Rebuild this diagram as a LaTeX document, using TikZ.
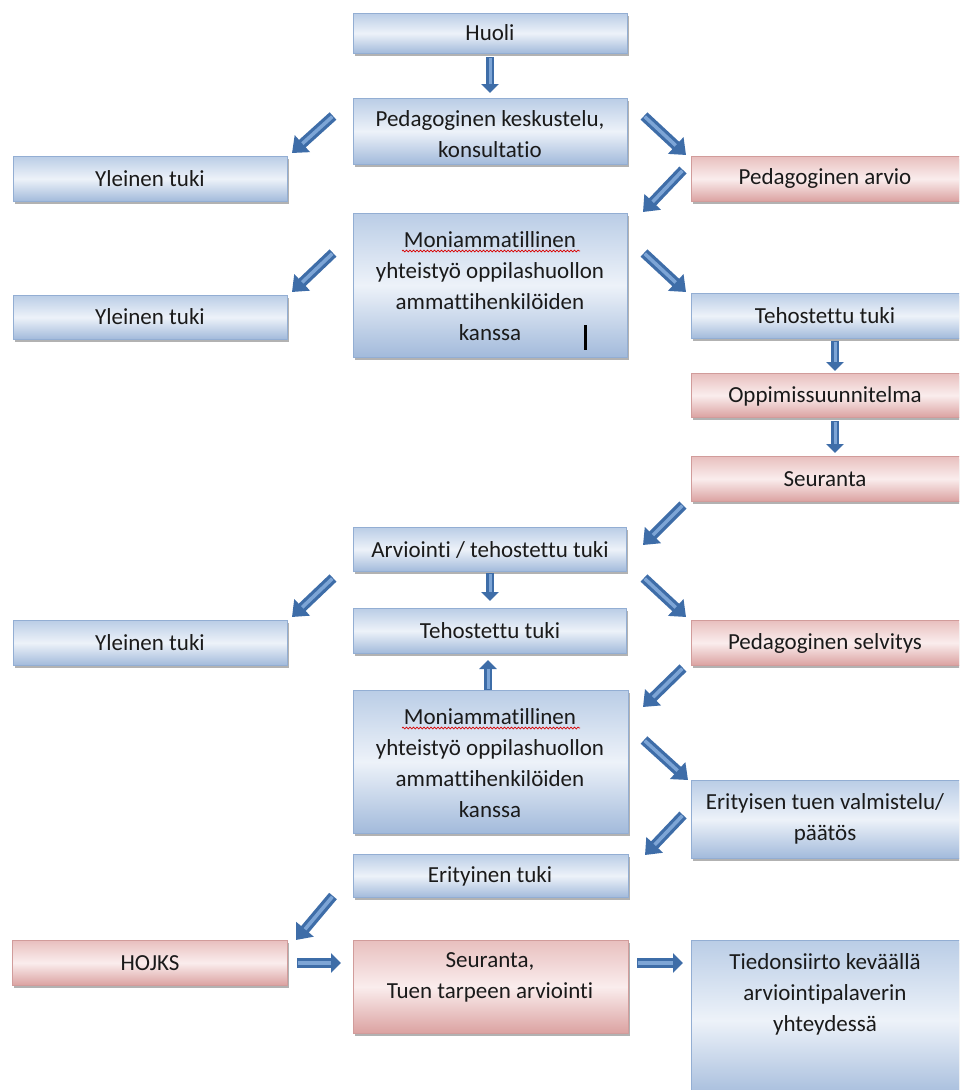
\documentclass[tikz,border=0pt]{standalone}
\usepackage{fontspec}
\setmainfont{Carlito}[Ligatures=NoCommon]
\usetikzlibrary{arrows.meta,shadows,decorations.pathmorphing}
\definecolor{bluetop}{HTML}{BACDE6}
\definecolor{bluemid}{HTML}{EDF2F9}
\definecolor{bluebot}{HTML}{A2BADB}
\definecolor{blueedge}{HTML}{93AED3}
\definecolor{redtop}{HTML}{E8BFBE}
\definecolor{redmid}{HTML}{FAEDED}
\definecolor{redbot}{HTML}{DBA2A1}
\definecolor{rededge}{HTML}{D19C9B}
\definecolor{txt}{HTML}{1A1A1A}
\definecolor{arrowdark}{HTML}{3E6DA8}
\definecolor{arrowlight}{HTML}{7DA5D6}
\tikzset{
  x=1pt, y=-1pt,
  basebox/.style={rectangle, anchor=north west, inner sep=0pt, line width=0.6pt,
    drop shadow={shadow xshift=2pt, shadow yshift=-2.5pt, opacity=0.3, fill=black}},
  bluebox/.style={basebox, draw=blueedge, top color=bluetop, bottom color=bluebot, middle color=bluemid},
  redbox/.style={basebox, draw=rededge, top color=redtop, bottom color=redbot, middle color=redmid},
  lbl/.style={font=\fontsize{23}{31}\selectfont, text=txt, align=center, inner sep=0pt},
  barrow/.style={line width=10pt, draw=arrowdark, -{Triangle[width=22pt,length=14pt]}},
  sarrow/.style={line width=8pt, draw=arrowdark, -{Triangle[width=17pt,length=9pt]}},
  hlbig/.style={line width=3.5pt, draw=arrowlight, shorten >=14pt, shorten <=1pt},
  hlsmall/.style={line width=3pt, draw=arrowlight, shorten >=9pt, shorten <=1pt},
  squig/.style={draw=red!85!black, line width=0.7pt, decorate, decoration={snake, amplitude=0.9pt, segment length=3.5pt}}
}
\begin{document}
\begin{tikzpicture}
\useasboundingbox (0,0) rectangle (959,1090);
\fill[white] (0,0) rectangle (959,1090);
\clip (0,0) rectangle (959,1090);

% ---------- boxes ----------
\node[bluebox, minimum width=274pt, minimum height=40pt] (huoli) at (353,13) {};
\node[bluebox, minimum width=274pt, minimum height=66pt] (pedkesk) at (353,98) {};
\node[bluebox, minimum width=274pt, minimum height=45pt] (yl1) at (13,156) {};
\node[redbox, minimum width=275pt, minimum height=45pt] (pedarv) at (691,156) {};
\node[bluebox, minimum width=274pt, minimum height=144pt] (moni1) at (353,213) {};
\node[bluebox, minimum width=274pt, minimum height=44pt] (yl2) at (13,295) {};
\node[bluebox, minimum width=275pt, minimum height=45pt] (teho1) at (691,293) {};
\node[redbox, minimum width=275pt, minimum height=44pt] (oppi) at (691,373) {};
\node[redbox, minimum width=275pt, minimum height=45pt] (seur1) at (691,456) {};
\node[bluebox, minimum width=273pt, minimum height=44pt] (arvi) at (353,527) {};
\node[bluebox, minimum width=273pt, minimum height=45pt] (teho2) at (353,608) {};
\node[bluebox, minimum width=274pt, minimum height=45pt] (yl3) at (13,620) {};
\node[redbox, minimum width=275pt, minimum height=45pt] (pedsel) at (691,620) {};
\node[bluebox, minimum width=275pt, minimum height=143pt] (moni2) at (353,690) {};
\node[bluebox, minimum width=275pt, minimum height=78pt] (erval) at (691,780) {};
\node[bluebox, minimum width=275pt, minimum height=43pt] (erit) at (353,854) {};
\node[redbox, minimum width=275pt, minimum height=45pt] (hojks) at (12,940) {};
\node[redbox, minimum width=275pt, minimum height=93pt] (seur2) at (353,940) {};
\node[bluebox, minimum width=275pt, minimum height=160pt] (tied) at (691,940) {};

% ---------- texts ----------
\node[lbl] (t-huoli) at (490,33) {Huoli};
\node[lbl] (t-pedkesk) at (490,134) {Pedagoginen keskustelu,\\konsultatio};
\node[lbl] (t-yl1) at (150,179) {Yleinen tuki};
\node[lbl] (t-pedarv) at (825,178) {Pedagoginen arvio};
\node[lbl] (t-moni1) at (490,286) {Moniammatillinen\\yhteistyö oppilashuollon\\ammattihenkilöiden\\kanssa};
\node[lbl] (t-yl2) at (150,317) {Yleinen tuki};
\node[lbl] (t-teho1) at (825,316) {Tehostettu tuki};
\node[lbl] (t-oppi) at (825,396) {Oppimissuunnitelma};
\node[lbl] (t-seur1) at (825,479) {Seuranta};
\node[lbl] (t-arvi) at (490,550) {Arviointi / tehostettu tuki};
\node[lbl] (t-teho2) at (490,631) {Tehostettu tuki};
\node[lbl] (t-yl3) at (150,643) {Yleinen tuki};
\node[lbl] (t-pedsel) at (825,643) {Pedagoginen selvitys};
\node[lbl] (t-moni2) at (490,763) {Moniammatillinen\\yhteistyö oppilashuollon\\ammattihenkilöiden\\kanssa};
\node[lbl] (t-erval) at (825,819) {Erityisen tuen valmistelu/\\päätös};
\node[lbl] (t-erit) at (490,876) {Erityinen tuki};
\node[lbl] (t-hojks) at (150,963) {HOJKS};
\node[lbl] (t-seur2) at (490,977) {Seuranta,\\Tuen tarpeen arviointi};
\node[lbl] (t-tied) at (825,994) {Tiedonsiirto keväällä\\arviointipalaverin\\yhteydessä};

% spelling squiggles and text cursor
\draw[squig] (402,251) -- (580,251);
\draw[squig] (402,728) -- (580,728);
\fill[black] (584,325) rectangle (586.5,350);

% ---------- arrow end points ----------
\coordinate (a1s) at (490,57);   \coordinate (a1e) at (490,93);
\coordinate (a2s) at (333,116);  \coordinate (a2e) at (292,153);
\coordinate (a3s) at (644,116);  \coordinate (a3e) at (686,155);
\coordinate (a4s) at (683,170);  \coordinate (a4e) at (643,212);
\coordinate (a5s) at (333,253);  \coordinate (a5e) at (292,292);
\coordinate (a6s) at (644,253);  \coordinate (a6e) at (686,292);
\coordinate (a7s) at (835,341);  \coordinate (a7e) at (835,371);
\coordinate (a8s) at (835,421);  \coordinate (a8e) at (835,453);
\coordinate (a9s) at (683,505);  \coordinate (a9e) at (643,545);
\coordinate (a10s) at (490,573); \coordinate (a10e) at (490,601);
\coordinate (a11s) at (333,578); \coordinate (a11e) at (292,617);
\coordinate (a12s) at (644,578); \coordinate (a12e) at (686,617);
\coordinate (a13s) at (683,668); \coordinate (a13e) at (643,707);
\coordinate (a14s) at (488,690); \coordinate (a14e) at (488,660);
\coordinate (a15s) at (644,740); \coordinate (a15e) at (688,780);
\coordinate (a16s) at (683,815); \coordinate (a16e) at (645,855);
\coordinate (a17s) at (333,896); \coordinate (a17e) at (296,940);
\coordinate (a18s) at (297,963); \coordinate (a18e) at (341,963);
\coordinate (a19s) at (637,963); \coordinate (a19e) at (683,963);

% ---------- arrows ----------
\foreach \a in {a2,a3,a4,a5,a6,a9,a11,a12,a13,a15,a16,a17}{
  \draw[barrow] (\a s) -- (\a e);
  \draw[hlbig] (\a s) -- (\a e);
}
\foreach \a in {a1,a7,a8,a10,a14}{
  \draw[sarrow] (\a s) -- (\a e);
  \draw[hlsmall] (\a s) -- (\a e);
}
\foreach \a in {a18,a19}{
  \draw[line width=10pt, draw=arrowdark, -{Triangle[width=19pt,length=10pt]}] (\a s) -- (\a e);
  \draw[line width=3.5pt, draw=arrowlight, shorten >=10pt, shorten <=1pt] (\a s) -- (\a e);
}
\end{tikzpicture}
\end{document}
